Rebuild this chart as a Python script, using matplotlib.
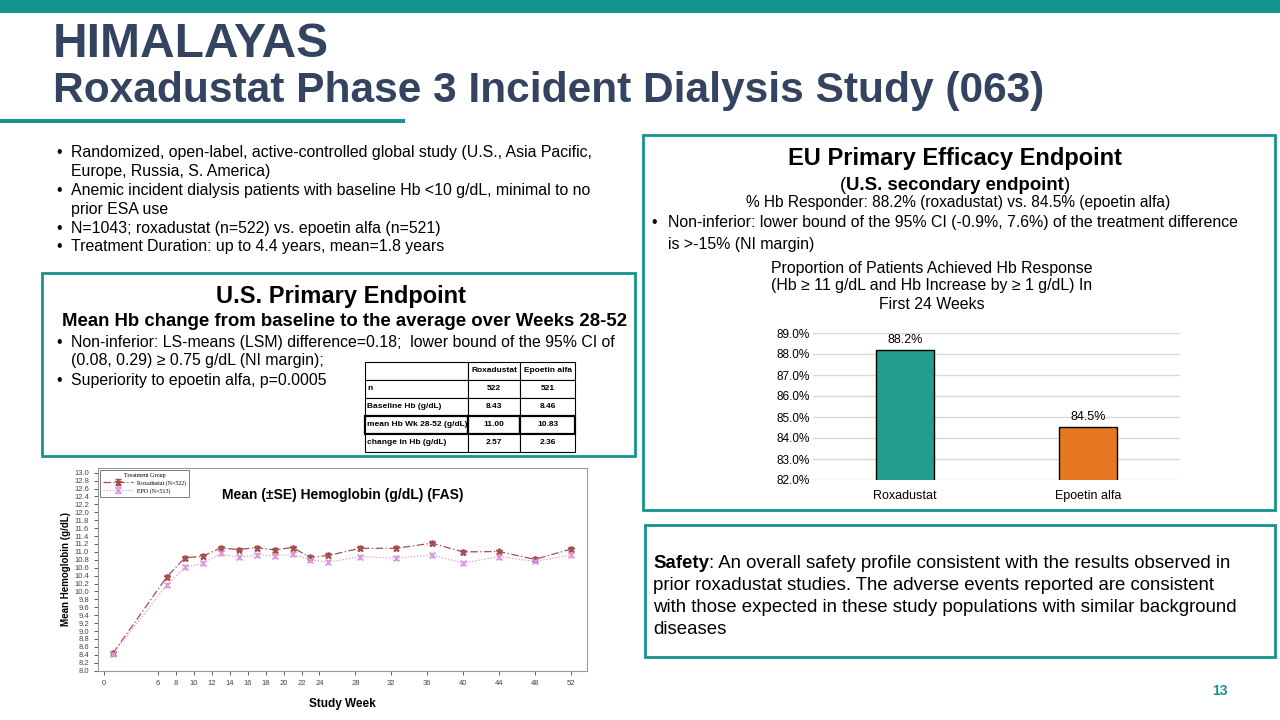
import matplotlib.pyplot as plt
from matplotlib.patches import Rectangle
from matplotlib import font_manager
import numpy as np

# ---- data ----
weeks = [1, 7, 9, 11, 13, 15, 17, 19, 21, 23, 25, 28.5, 32.5, 36.5, 40, 44, 48, 52]
roxa_hb = [8.44, 10.37, 10.85, 10.89, 11.10, 11.06, 11.11, 11.05, 11.11, 10.86, 10.91,
           11.09, 11.09, 11.22, 11.00, 11.01, 10.81, 11.07]
epo_hb = [8.43, 10.16, 10.61, 10.71, 10.96, 10.86, 10.93, 10.90, 10.94, 10.80, 10.74,
          10.88, 10.84, 10.92, 10.72, 10.88, 10.76, 10.92]
roxa_se = 0.05
epo_se = 0.05
week_ticks = [0, 6, 8, 10, 12, 14, 16, 18, 20, 22, 24, 28, 32, 36, 40, 44, 48, 52]

bar_cats = ['Roxadustat', 'Epoetin alfa']
bar_vals = [88.2, 84.5]
bar_ticks = [82.0, 83.0, 84.0, 85.0, 86.0, 87.0, 88.0, 89.0]

tbl_cols = ['', 'Roxadustat', 'Epoetin alfa']
tbl_rows = [['n', '522', '521'],
            ['Baseline Hb (g/dL)', '8.43', '8.46'],
            ['mean Hb Wk 28-52 (g/dL)', '11.00', '10.83'],
            ['change in Hb (g/dL)', '2.57', '2.36']]

TEAL = '#14938D'
NAVY = '#34435F'
W, H = 1280, 720

plt.rcParams['font.family'] = ['Liberation Sans', 'DejaVu Sans']
installed = {f.name for f in font_manager.fontManager.ttflist}
NARROW = 'Liberation Sans Narrow' if 'Liberation Sans Narrow' in installed else 'Liberation Sans'
small_fs = 7.0 if NARROW == 'Liberation Sans Narrow' else 6.0

fig = plt.figure(figsize=(12.8, 7.2), dpi=100)


def fx(x):
    return x / W


def fy(y):
    return 1 - y / H


def box(x0, y0, x1, y1, lw=2.0):
    fig.patches.append(Rectangle((fx(x0), fy(y1)), fx(x1 - x0), (y1 - y0) / H,
                                 transform=fig.transFigure, fill=False,
                                 edgecolor=TEAL, lw=lw))


# top band and title
fig.patches.append(Rectangle((0, fy(13)), 1, 13 / H, transform=fig.transFigure,
                             color=TEAL, lw=0))
fig.patches.append(Rectangle((0, fy(123)), fx(405), 4 / H, transform=fig.transFigure,
                             color=TEAL, lw=0))
fig.text(fx(53), fy(57), 'HIMALAYAS', fontsize=34.5, fontweight='bold', color=NAVY,
         va='baseline')
fig.text(fx(53), fy(102), 'Roxadustat Phase 3 Incident Dialysis Study (063)', fontsize=30.6,
         fontweight='bold', color=NAVY, va='baseline')

BFS = 11.4
# top-left bullets
lines = [('•', 'Randomized, open-label, active-controlled global study (U.S., Asia Pacific,'),
         ('', 'Europe, Russia, S. America)'),
         ('•', 'Anemic incident dialysis patients with baseline Hb <10 g/dL, minimal to no'),
         ('', 'prior ESA use'),
         ('•', 'N=1043; roxadustat (n=522) vs. epoetin alfa (n=521)'),
         ('•', 'Treatment Duration: up to 4.4 years, mean=1.8 years')]
for i, (b, t) in enumerate(lines):
    y = 153 + i * 18.8
    if b:
        fig.text(fx(56), fy(y), b, fontsize=BFS, va='center')
    fig.text(fx(71), fy(y), t, fontsize=BFS, va='center')

# US box
box(42, 273, 635, 456)
fig.text(fx(341), fy(296), 'U.S. Primary Endpoint', fontsize=17, fontweight='bold',
         ha='center', va='center')
fig.text(fx(345), fy(321), 'Mean Hb change from baseline to the average over Weeks 28-52',
         fontsize=13.4, fontweight='bold', ha='center', va='center')
us_lines = [('•', 'Non-inferior: LS-means (LSM) difference=0.18;  lower bound of the 95% CI of'),
            ('', '(0.08, 0.29) \u2265 0.75 g/dL (NI margin);'),
            ('•', 'Superiority to epoetin alfa, p=0.0005')]
for i, (b, t) in enumerate(us_lines):
    y = 342 + i * 19
    if b:
        fig.text(fx(56), fy(y), b, fontsize=BFS, va='center')
    fig.text(fx(71), fy(y), t, fontsize=BFS, va='center')

# table
ax_t = fig.add_axes([fx(365), fy(452), fx(210), 90 / H])
ax_t.axis('off')
tb = ax_t.table(cellText=tbl_rows, colLabels=tbl_cols, bbox=[0, 0, 1, 1],
                colWidths=[103, 52, 55], cellLoc='center')
tb.auto_set_font_size(False)
for (r, c), cell in tb.get_celld().items():
    cell.set_linewidth(0.8)
    cell.PAD = 0.02
    txt = cell.get_text()
    txt.set_fontsize(small_fs)
    txt.set_fontweight('bold')
    txt.set_family(NARROW)
    if c == 0:
        txt.set_ha('left')
        cell._loc = 'left'
    if r == 3:
        cell.set_linewidth(1.6)

# line chart
ax = fig.add_axes([fx(98), fy(671), fx(587 - 98), (671 - 468) / H])
ax.errorbar(weeks, roxa_hb, yerr=roxa_se, color='#A34F52', ls=(0, (6, 2, 1, 2)), lw=0.9,
            marker='*', ms=5, capsize=2.5, elinewidth=0.8, label='Roxadustat (N=522)')
ax.errorbar(weeks, epo_hb, yerr=epo_se, color='#DC9ADC', ls=(0, (1, 1.5)), lw=0.9,
            marker='x', ms=4, capsize=2.5, elinewidth=0.8, label='EPO (N=513)')
ax.set_xlim(-0.67, 53.8)
ax.set_ylim(7.99, 13.12)
ax.set_xticks(week_ticks)
yt = np.round(np.arange(8.0, 13.01, 0.2), 1)
ax.set_yticks(yt)
ax.set_yticklabels([f'{v:.1f}' for v in yt])
ax.tick_params(labelsize=5.5, length=3, width=0.6, colors='#444444')
for lab in ax.get_xticklabels() + ax.get_yticklabels():
    lab.set_family(NARROW)
for s in ax.spines.values():
    s.set_color('#999999')
    s.set_linewidth(0.8)
ax.set_ylabel('Mean Hemoglobin (g/dL)', fontsize=7, fontweight='bold', labelpad=2)
ax.set_xlabel('Study Week', fontsize=8.5, fontweight='bold', labelpad=8, family=NARROW)
ax.text(0.5, 0.865, 'Mean (\u00b1SE) Hemoglobin (g/dL) (FAS)', transform=ax.transAxes,
        fontsize=10, fontweight='bold', ha='center', va='center')
leg = ax.legend(loc='upper left', title='Treatment Group', frameon=True, fancybox=False,
                edgecolor='#444444', borderaxespad=0.3, handlelength=5, labelspacing=0.35,
                borderpad=0.5, prop={'family': 'Liberation Serif', 'size': 4.3},
                title_fontproperties={'family': 'Liberation Serif', 'size': 4.3})
leg.get_frame().set_linewidth(0.6)

# EU box
box(643, 135, 1275, 510)
fig.text(fx(955), fy(158), 'EU Primary Efficacy Endpoint', fontsize=17, fontweight='bold',
         ha='center', va='center')
sub = fig.text(fx(955), fy(186), 'U.S. secondary endpoint', fontsize=13.4, fontweight='bold',
               ha='center', va='center')
fig.canvas.draw()
r = fig.canvas.get_renderer()
bb = sub.get_window_extent(r)
fig.text(bb.x0 / W, fy(186), '(', fontsize=13.4, ha='right', va='center')
fig.text(bb.x1 / W, fy(186), ')', fontsize=13.4, ha='left', va='center')
fig.text(fx(958), fy(202), '% Hb Responder: 88.2% (roxadustat) vs. 84.5% (epoetin alfa)',
         fontsize=11.2, ha='center', va='center')
fig.text(fx(651), fy(222), '•', fontsize=BFS, va='center')
fig.text(fx(668), fy(222), 'Non-inferior: lower bound of the 95% CI (-0.9%, 7.6%) of the treatment difference',
         fontsize=BFS, va='center')
fig.text(fx(668), fy(244), 'is >-15% (NI margin)', fontsize=BFS, va='center')
for i, t in enumerate(['Proportion of Patients Achieved Hb Response',
                       '(Hb \u2265 11 g/dL and Hb Increase by \u2265 1 g/dL) In',
                       'First 24 Weeks']):
    fig.text(fx(932), fy(268 + i * 18), t, fontsize=11.4, ha='center', va='center')

# bar chart
axb = fig.add_axes([fx(813), fy(480), fx(1180 - 813), (480 - 333) / H])
xs = np.arange(len(bar_cats))
axb.bar(xs, bar_vals, width=0.315, color=['#239E8E', '#E87722'],
        edgecolor='black', lw=1, zorder=3)
axb.set_xlim(-0.5, 1.5)
axb.set_ylim(82.0, 89.0)
axb.set_yticks(bar_ticks)
axb.set_yticklabels([f'{v:.1f}%' for v in bar_ticks])
axb.set_xticks(xs)
axb.set_xticklabels(bar_cats)
axb.tick_params(axis='x', length=0, labelsize=9, pad=7)
axb.tick_params(axis='y', length=0, labelsize=8.5, pad=2)
axb.grid(axis='y', color='#D9D9D9', lw=1, zorder=0)
for s in axb.spines.values():
    s.set_visible(False)
for x, v in zip(xs, bar_vals):
    axb.text(x, v + 0.2, f'{v:.1f}%', ha='center', va='bottom', fontsize=9)
axb.set_facecolor('none')

# Safety box
box(645, 525, 1275, 657)
SFS = 13.4
sf = fig.text(fx(653), fy(563), 'Safety', fontsize=SFS, fontweight='bold', va='center')
fig.canvas.draw()
bb = sf.get_window_extent(fig.canvas.get_renderer())
fig.text(bb.x1 / W, fy(563), ': An overall safety profile consistent with the results observed in',
         fontsize=SFS, va='center')
for i, t in enumerate(['prior roxadustat studies. The adverse events reported are consistent',
                       'with those expected in these study populations with similar background',
                       'diseases']):
    fig.text(fx(653), fy(585 + i * 22), t, fontsize=SFS, va='center')

fig.text(fx(1220), fy(691), '13', fontsize=10, fontweight='bold', color=TEAL, ha='center',
         va='center')

fig.savefig('out.png', dpi=100)
